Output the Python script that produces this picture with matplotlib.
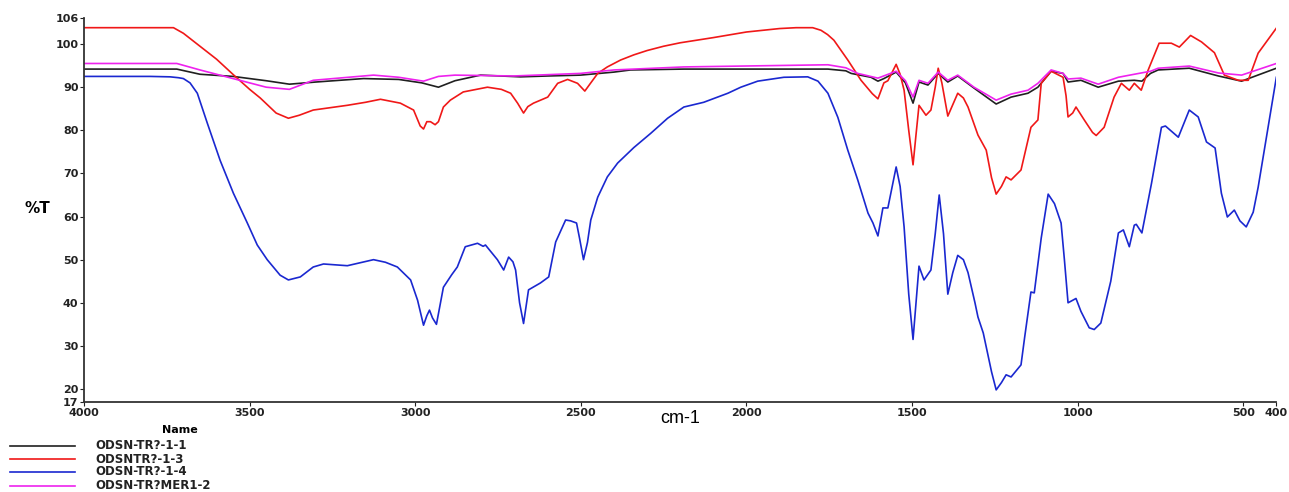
import matplotlib
matplotlib.use("Agg")
import matplotlib.pyplot as plt
from matplotlib.lines import Line2D

plt.rcParams['font.family'] = ['Liberation Sans', 'DejaVu Sans']

# 光谱数据 (cm-1, %T)
wn_black = [4000, 3720, 3650, 3550, 3450, 3380, 3300, 3156, 3050, 2980, 2930, 2880, 2803,
            2682, 2600, 2501, 2400, 2350, 2189, 1754, 1700, 1684, 1624, 1603, 1585, 1548,
            1520, 1497, 1479, 1452, 1421, 1392, 1362, 1313, 1246, 1201, 1150, 1120, 1080,
            1044, 1029, 990, 938, 877, 829, 806, 780, 757, 663, 575, 505, 400]
t_black = [94.2, 94.2, 93.0, 92.5, 91.5, 90.7, 91.2, 92.0, 91.8, 91.0, 90.0, 91.5, 92.8,
           92.4, 92.6, 92.8, 93.5, 94.0, 94.2, 94.2, 93.8, 93.2, 92.3, 91.4, 92.0, 93.5,
           91.0, 86.3, 91.2, 90.5, 93.2, 91.2, 92.6, 89.8, 86.1, 87.7, 88.6, 90.0, 93.7,
           93.2, 91.2, 91.6, 90.0, 91.4, 91.6, 91.4, 93.2, 94.0, 94.4, 92.6, 91.4, 94.4]

wn_red = [4000, 3730, 3700, 3650, 3600, 3545, 3500, 3468, 3420, 3383, 3350, 3308, 3205,
          3150, 3105, 3045, 3005, 2985, 2975, 2965, 2954, 2940, 2930, 2915, 2894, 2855,
          2782, 2740, 2712, 2691, 2673, 2660, 2643, 2600, 2570, 2540, 2510, 2488, 2470,
          2449, 2420, 2380, 2340, 2300, 2250, 2200, 2100, 2000, 1900, 1850, 1800, 1775,
          1755, 1736, 1715, 1694, 1654, 1620,
          1603, 1585, 1573, 1548, 1536, 1524, 1510, 1497, 1488, 1479, 1458, 1443, 1430,
          1421, 1410, 1392, 1362, 1345, 1331, 1301, 1276, 1260, 1246, 1230, 1216, 1201,
          1171, 1141, 1120, 1110, 1080, 1044, 1035, 1029, 1015, 1005, 980, 955, 944, 920,
          890, 868, 844, 829, 808, 787, 754, 717, 693, 659, 626, 587, 557, 515, 485, 455, 400]
t_red = [103.8, 103.8, 102.5, 99.5, 96.5, 92.6, 89.5, 87.5, 84.0, 82.8, 83.5, 84.7, 85.8,
         86.5, 87.2, 86.3, 84.7, 81.0, 80.3, 82.0, 82.0, 81.3, 82.0, 85.4, 87.0, 88.9,
         90.0, 89.5, 88.6, 86.3, 84.0, 85.5, 86.3, 87.7, 90.9, 91.8, 90.9, 89.1, 91.0,
         93.2, 94.7, 96.3, 97.5, 98.5, 99.5, 100.3, 101.5, 102.8, 103.6, 103.8, 103.8, 103.2,
         102.2, 100.9, 98.6, 96.3, 91.6, 88.5,
         87.3, 91.0, 91.5, 95.3, 93.0, 89.3, 80.0, 72.0, 79.0, 85.8, 83.5, 84.7, 90.0,
         94.4, 91.0, 83.3, 88.6, 87.5, 85.4, 78.9, 75.4, 69.0, 65.2, 67.0, 69.2, 68.5,
         70.8, 80.7, 82.4, 90.9, 93.7, 92.3, 88.0, 83.1, 84.0, 85.4, 82.4, 79.5, 78.8, 80.7,
         87.7, 90.9, 89.3, 90.9, 89.3, 94.0, 100.2, 100.2, 99.3, 102.0, 100.5, 98.0, 92.8,
         91.6, 91.6, 97.9, 103.7]

wn_blue = [4000, 3800, 3740, 3715, 3700, 3680, 3658, 3628, 3589, 3549, 3507, 3477, 3447,
           3408, 3383, 3347, 3308, 3277, 3205, 3126, 3090, 3054, 3014, 2993, 2975, 2965,
           2957, 2948, 2936, 2915, 2890, 2873, 2849, 2812, 2795, 2788, 2752, 2733, 2718,
           2705, 2697, 2685, 2673, 2658, 2622, 2597, 2576, 2546, 2531, 2513, 2504, 2492,
           2480, 2470, 2449, 2420, 2389, 2340, 2289, 2238, 2189, 2129, 2056, 2017, 1966,
           1887, 1815, 1784, 1754, 1724, 1694, 1664, 1633, 1618, 1603, 1588, 1573, 1560,
           1548, 1536, 1524, 1510, 1497, 1488, 1479, 1464, 1443, 1430, 1418, 1405, 1392,
           1377, 1362, 1345, 1331, 1310, 1301, 1285, 1260, 1246, 1230, 1216, 1201, 1171,
           1160, 1141, 1131, 1110, 1089, 1070, 1050, 1040, 1029, 1005, 990, 965, 950, 930,
           900, 877, 862, 844, 829, 823, 806, 777, 747, 735, 720, 696, 663, 636, 611, 585,
           566, 548, 527, 510, 491, 470, 455, 400]
t_blue = [92.5, 92.5, 92.4, 92.2, 92.0, 91.0, 88.6, 81.7, 73.0, 65.4, 58.5, 53.4, 50.0,
          46.4, 45.3, 46.0, 48.3, 49.0, 48.6, 50.0, 49.4, 48.3, 45.3, 40.6, 34.8, 37.0,
          38.3, 36.5, 35.0, 43.6, 46.5, 48.3, 53.0, 53.8, 53.1, 53.4, 50.0, 47.6, 50.6,
          49.5, 47.6, 40.0, 35.2, 43.0, 44.6, 46.0, 54.1, 59.2, 59.0, 58.5, 55.0, 50.0,
          54.0, 59.2, 64.5, 69.2, 72.4, 76.0, 79.3, 82.8, 85.4, 86.5, 88.6, 90.0, 91.4,
          92.3, 92.4, 91.4, 88.6, 83.0, 75.4, 68.5, 60.8, 58.5, 55.5, 62.0, 62.0, 67.0,
          71.5, 67.0, 57.6, 42.0, 31.5, 40.0, 48.5, 45.3, 47.6, 56.0, 65.0, 56.0, 42.0,
          47.0, 51.0, 50.0, 47.0, 40.0, 36.7, 33.0, 24.0, 19.8, 21.5, 23.3, 22.8, 25.6,
          32.0, 42.5, 42.3, 55.0, 65.2, 63.0, 58.5, 50.0, 40.0, 41.0, 38.0, 34.2, 33.8, 35.3,
          45.0, 56.2, 56.9, 53.0, 58.0, 58.2, 56.2, 67.7, 80.7, 81.0, 80.0, 78.4, 84.7, 83.1,
          77.3, 75.9, 65.4, 59.9, 61.5, 59.0, 57.6, 61.0, 66.8, 92.3]

wn_mag = [4000, 3720, 3650, 3550, 3450, 3380, 3308, 3126, 3050, 2975, 2930, 2880, 2703,
          2501, 2400, 2189, 1754, 1700, 1664, 1603, 1548, 1520, 1497, 1479, 1452, 1421,
          1392, 1362, 1313, 1246, 1201, 1150, 1120, 1080, 1044, 1029, 990, 938, 877, 829,
          780, 757, 663, 575, 505, 400]
t_mag = [95.5, 95.5, 94.0, 92.0, 90.0, 89.5, 91.6, 92.8, 92.3, 91.4, 92.5, 92.8, 92.6,
         93.2, 94.0, 94.7, 95.2, 94.5, 93.2, 92.1, 93.7, 91.5, 87.7, 91.6, 90.9, 93.5,
         91.6, 92.8, 90.0, 87.0, 88.4, 89.3, 90.9, 94.0, 93.2, 91.9, 92.1, 90.7, 92.3, 93.0,
         93.7, 94.4, 94.9, 93.3, 92.8, 95.5]

names = ['ODSN-TR?-1-1', 'ODSNTR?-1-3', 'ODSN-TR?-1-4', 'ODSN-TR?MER1-2']
colors = ['#202020', '#f01818', '#1a28d0', '#ee22ee']

x_ticks = [4000, 3500, 3000, 2500, 2000, 1500, 1000, 500, 400]
y_ticks = [17, 20, 30, 40, 50, 60, 70, 80, 90, 100, 106]

fig = plt.figure(figsize=(12.89, 4.92), dpi=100)
ax = fig.add_axes([0.0652, 0.183, 0.925, 0.78])

series = [(wn_black, t_black), (wn_red, t_red), (wn_blue, t_blue), (wn_mag, t_mag)]
for (w, t), c in zip(series, colors):
    ax.plot(w, t, color=c, lw=1.2)

bold_font = dict(family='DejaVu Sans', weight='bold')

ax.set_xlim(4000, 400)
ax.set_ylim(17, 106)
ax.set_xticks(x_ticks)
ax.set_yticks(y_ticks)
ax.set_xticklabels([str(v) for v in x_ticks], fontsize=8, **bold_font)
ax.set_yticklabels([str(v) for v in y_ticks], fontsize=8, **bold_font)
ax.tick_params(axis='both', direction='out', length=3, width=0.8, pad=1, colors='#222222')
for s in ['top', 'right']:
    ax.spines[s].set_visible(False)
for s in ['left', 'bottom']:
    ax.spines[s].set_color('#333333')
    ax.spines[s].set_linewidth(1.3)

fig.text(0.019, 0.577, '%T', fontsize=11, ha='left', va='center', **bold_font)
fig.text(0.5275, 0.150, 'cm-1', fontsize=13, ha='center', va='center')

# 图例 (手动排版)
fig.text(0.1396, 0.126, 'Name', fontsize=8, ha='center', va='center', **bold_font)
legend_y = [0.0935, 0.067, 0.0407, 0.0122]
for name, c, yy in zip(names, colors, legend_y):
    fig.add_artist(Line2D([0.0078, 0.058], [yy, yy], transform=fig.transFigure,
                          color=c, lw=1.2))
    fig.text(0.0737, yy, name, fontsize=8.5, ha='left', va='center',
             color='#222222', **bold_font)

fig.savefig('out.png', dpi=100)
